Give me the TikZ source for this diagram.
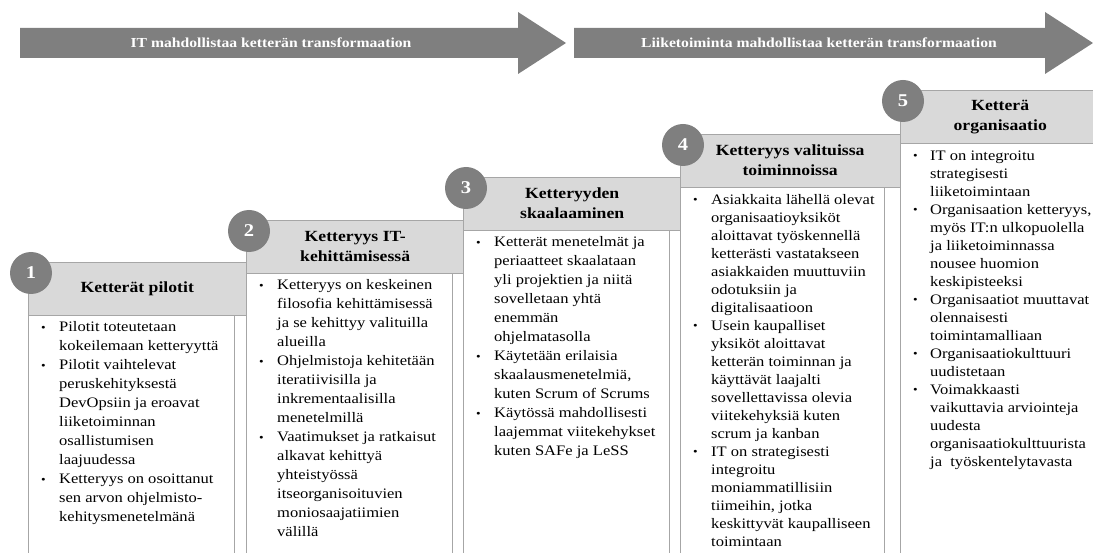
\documentclass[tikz,border=0pt]{standalone}
\usepackage{fontspec}
\setmainfont{Liberation Serif}[FakeStretch=1.14]
\usepackage{tikz}
\usetikzlibrary{positioning,calc}
\usepackage{xcolor}

\definecolor{arrowgray}{HTML}{7F7F7F}
\definecolor{numgray}{HTML}{7F7F7F}
\definecolor{hdrgray}{HTML}{D9D9D9}
\definecolor{linegray}{HTML}{A6A6A6}

\newcommand{\bul}{\raisebox{0.3pt}{\fontsize{11.5}{11.5}\selectfont\textbullet}}

\begin{document}
\begin{tikzpicture}[x=1pt, y=-1pt, every node/.style={font=\fontsize{14.5}{19}\selectfont}]
\tikzset{hdr/.style={draw=linegray, fill=hdrgray, minimum width=218pt, minimum height=53pt, inner sep=0pt, anchor=north west, align=center, font=\fontsize{15.5}{20}\selectfont\bfseries}}
\tikzset{bodybox/.style={draw=linegray, fill=white, minimum width=206pt, minimum height=500pt, inner sep=0pt, anchor=north west}}
\tikzset{num/.style={circle, fill=numgray, minimum size=42pt, inner sep=0pt, text=white, font=\fontsize{18}{18}\selectfont\bfseries}}
\tikzset{bullets/.style={anchor=north west, inner sep=0pt, align=left}}
\tikzset{tight/.style={font=\fontsize{14.5}{18}\selectfont}}
\tikzset{banner/.style={text=white, font=\fontsize{13.75}{16}\selectfont\bfseries}}
\useasboundingbox (0,0) rectangle (1093,553);
\clip (0,0) rectangle (1093,553);

% arrows
\fill[arrowgray] (20,28) -- (518,28) -- (518,12) -- (566,43) -- (518,74) -- (518,58) -- (20,58) -- cycle;
\fill[arrowgray] (574,28) -- (1045,28) -- (1045,12) -- (1093,43) -- (1045,74) -- (1045,58) -- (574,58) -- cycle;
\node[banner] (itarrow) at (271,43) {IT mahdollistaa ketterän transformaation};
\node[banner] (bizarrow) at (819,43) {Liiketoiminta mahdollistaa ketterän transformaation};

% headers
\node[hdr] (h1) at (28,262) {Ketterät pilotit};
\node[hdr] (h2) at (246,220) {Ketteryys IT-\\kehittämisessä};
\node[hdr] (h3) at (463,177) {Ketteryyden\\skaalaaminen};
\node[hdr, minimum width=220pt] (h4) at (680,134) {Ketteryys valituissa\\toiminnoissa};
\node[hdr, minimum width=200pt] (h5) at (900,90) {Ketterä\\organisaatio};

% bodies
\node[bodybox] (b1) at (h1.south west) {};
\node[bodybox] (b2) at (h2.south west) {};
\node[bodybox] (b3) at (h3.south west) {};
\node[bodybox, minimum width=204pt] (b4) at (h4.south west) {};
\node[bodybox, minimum width=200pt] (b5) at (h5.south west) {};

% step numbers
\foreach \i in {1,...,5}
  \node[num] (n\i) at ([shift={(3,11)}]h\i.north west) {\i};

% bullet texts
\node[bullets] (t1) at ([shift={(13,3)}]b1.north west) {%
\begin{tabular}{@{}p{18pt}@{}l@{}}
\bul & Pilotit toteutetaan\\
 & kokeilemaan ketteryyttä\\
\bul & Pilotit vaihtelevat\\
 & peruskehityksestä\\
 & DevOpsiin ja eroavat\\
 & liiketoiminnan\\
 & osallistumisen\\
 & laajuudessa\\
\bul & Ketteryys on osoittanut\\
 & sen arvon ohjelmisto-\\
 & kehitysmenetelmänä
\end{tabular}};
\node[bullets] (t2) at ([shift={(13,3)}]b2.north west) {%
\begin{tabular}{@{}p{18pt}@{}l@{}}
\bul & Ketteryys on keskeinen\\
 & filosofia kehittämisessä\\
 & ja se kehittyy valituilla\\
 & alueilla\\
\bul & Ohjelmistoja kehitetään\\
 & iteratiivisilla ja\\
 & inkrementaalisilla\\
 & menetelmillä\\
\bul & Vaatimukset ja ratkaisut\\
 & alkavat kehittyä\\
 & yhteistyössä\\
 & itseorganisoituvien\\
 & moniosaajatiimien\\
 & välillä
\end{tabular}};
\node[bullets] (t3) at ([shift={(13,3)}]b3.north west) {%
\begin{tabular}{@{}p{18pt}@{}l@{}}
\bul & Ketterät menetelmät ja\\
 & periaatteet skaalataan\\
 & yli projektien ja niitä\\
 & sovelletaan yhtä\\
 & enemmän\\
 & ohjelmatasolla\\
\bul & Käytetään erilaisia\\
 & skaalausmenetelmiä,\\
 & kuten Scrum of Scrums\\
\bul & Käytössä mahdollisesti\\
 & laajemmat viitekehykset\\
 & kuten SAFe ja LeSS
\end{tabular}};
\node[bullets, tight] (t4) at ([shift={(13,4)}]b4.north west) {%
\begin{tabular}{@{}p{18pt}@{}l@{}}
\bul & Asiakkaita lähellä olevat\\
 & organisaatioyksiköt\\
 & aloittavat työskennellä\\
 & ketterästi vastatakseen\\
 & asiakkaiden muuttuviin\\
 & odotuksiin ja\\
 & digitalisaatioon\\
\bul & Usein kaupalliset\\
 & yksiköt aloittavat\\
 & ketterän toiminnan ja\\
 & käyttävät laajalti\\
 & sovellettavissa olevia\\
 & viitekehyksiä kuten\\
 & scrum ja kanban\\
\bul & IT on strategisesti\\
 & integroitu\\
 & moniammatillisiin\\
 & tiimeihin, jotka\\
 & keskittyvät kaupalliseen\\
 & toimintaan
\end{tabular}};
\node[bullets, tight] (t5) at ([shift={(13,4)}]b5.north west) {%
\begin{tabular}{@{}p{17pt}@{}l@{}}
\bul & IT on integroitu\\
 & strategisesti\\
 & liiketoimintaan\\
\bul & Organisaation ketteryys,\\
 & myös IT:n ulkopuolella\\
 & ja liiketoiminnassa\\
 & nousee huomion\\
 & keskipisteeksi\\
\bul & Organisaatiot muuttavat\\
 & olennaisesti\\
 & toimintamalliaan\\
\bul & Organisaatiokulttuuri\\
 & uudistetaan\\
\bul & Voimakkaasti\\
 & vaikuttavia arviointeja\\
 & uudesta\\
 & organisaatiokulttuurista\\
 & ja\ \ työskentelytavasta
\end{tabular}};
\end{tikzpicture}
\end{document}
